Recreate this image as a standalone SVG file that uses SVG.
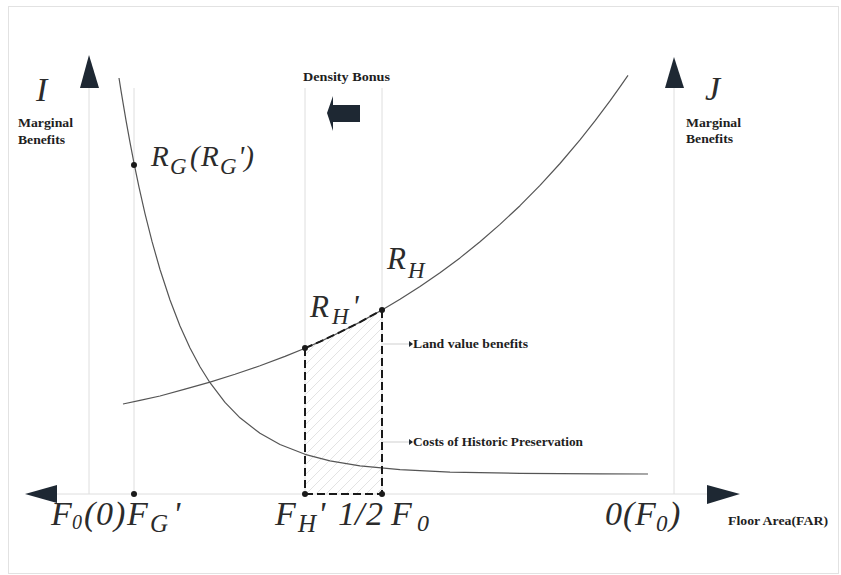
<svg xmlns="http://www.w3.org/2000/svg" width="841" height="575" viewBox="0 0 841 575">
<style>
.grid{stroke:#dedede;stroke-width:1;fill:none}
.curve{stroke:#555;stroke-width:1.2;fill:none;stroke-linejoin:round}
.dash{stroke:#1a1a1a;stroke-width:2;stroke-dasharray:8 4;fill:none}
.head{fill:#1e2833}
.dot{fill:#1a1a1a}
.math{font-family:"Liberation Serif","Times New Roman",serif;font-style:italic;fill:#2b2b2b}
.lbl{font-family:"Liberation Serif","Times New Roman",serif;font-weight:bold;font-size:13px;fill:#1e1e1e}
.lead{stroke:#cfcfcf;stroke-width:1}
</style>
<defs>
<pattern id="hatch" patternUnits="userSpaceOnUse" width="10" height="10">
<path d="M-2,2 L2,-2 M0,10 L10,0 M8,12 L12,8" stroke="#e3e3e3" stroke-width="1"/>
</pattern>
</defs>
<rect x="8.5" y="6.5" width="830" height="567" fill="#fff" stroke="#e2e2e2"/>
<g id="axes">
<line class="grid" x1="57" y1="494" x2="707" y2="494"/>
<line class="grid" x1="89" y1="88" x2="89" y2="494"/>
<line class="grid" x1="674" y1="88" x2="674" y2="494"/>
<line class="grid" x1="134" y1="88" x2="134" y2="494"/>
<line class="grid" x1="305" y1="88" x2="305" y2="494"/>
<line class="grid" x1="382" y1="88" x2="382" y2="494"/>
<polygon class="head" points="25,494 57,485 57,503"/>
<polygon class="head" points="740,494 707,485 707,504"/>
<polygon class="head" points="89,55 80,88 99,88"/>
<polygon class="head" points="674,57 665,88 684,88"/>
<polygon class="head" points="327,113 333,96 333,105 360,105 360,122 333,122 333,131"/>
</g>
<g id="area">
<path d="M305,348.2 L320,341.6 L340,332.2 L360,322.1 L382,310 L382,494 L305,494 Z" fill="url(#hatch)"/>
</g>
<g id="curves">
<polyline id="cost-curve" class="curve" points="119,78 121,90.6 123,102.7 126,120.3 130,142.4 134,163.1 139,187.2 145,213.6 152,241.4 160,269.5 170,300 180,326 190,348 200,366.8 210,382.7 225,402.4 240,417.8 260,433.3 280,444.5 305,454.3 330,460.8 360,465.9 400,469.7 450,472.1 520,473.4 600,473.9 648,474"/>
<polyline id="value-curve" class="curve" points="123,404 140,400.3 160,396 185,389.2 210,382.1 235,374.3 260,365.8 285,356.4 305,348.2 320,341.6 340,332.2 360,322.1 382,310 400,299.3 420,286.6 440,272.8 460,257.9 480,241.8 500,224.4 520,205.7 540,185.4 560,163.5 580,139.9 595,120.9 610,100.9 620,86.8 628,75.3"/>
</g>
<g id="connectors">
<polyline class="dash" points="305,348.2 320,341.6 340,332.2 360,322.1 382,310"/>
<line class="dash" x1="305" y1="348" x2="305" y2="494"/>
<line class="dash" x1="382" y1="310" x2="382" y2="494"/>
<line class="dash" x1="305" y1="494" x2="382" y2="494"/>
<line class="lead" x1="383" y1="344" x2="410" y2="344"/>
<polygon class="head" points="409,341 413,344 409,347"/>
<line class="lead" x1="383" y1="442" x2="410" y2="442"/>
<polygon class="head" points="409,439 413,442 409,445"/>
</g>
<g id="points">
<circle class="dot" cx="134" cy="165" r="3"/>
<circle class="dot" cx="305" cy="348" r="3"/>
<circle class="dot" cx="382" cy="310" r="3"/>
<circle class="dot" cx="134" cy="494" r="3"/>
<circle class="dot" cx="305" cy="494" r="3"/>
<circle class="dot" cx="382" cy="494" r="3"/>
</g>
<g id="axis-I">
<text class="math" x="36" y="101" font-size="34">I</text>
<text class="lbl" x="18" y="127" textLength="55" lengthAdjust="spacingAndGlyphs">Marginal</text>
<text class="lbl" x="18" y="144" textLength="47" lengthAdjust="spacingAndGlyphs">Benefits</text>
</g>
<g id="axis-J">
<text class="math" x="705" y="100" font-size="34">J</text>
<text class="lbl" x="686" y="127" textLength="55" lengthAdjust="spacingAndGlyphs">Marginal</text>
<text class="lbl" x="686" y="143" textLength="47" lengthAdjust="spacingAndGlyphs">Benefits</text>
</g>
<g id="density-bonus">
<text class="lbl" x="303" y="81" textLength="87" lengthAdjust="spacingAndGlyphs">Density Bonus</text>
</g>
<g id="label-RG">
<text class="math" font-size="29"><tspan x="151" y="166">R</tspan><tspan x="170" y="174" font-size="23">G</tspan><tspan x="190" y="166">(</tspan><tspan x="201" y="166">R</tspan><tspan x="220" y="174" font-size="23">G</tspan><tspan x="238" y="166">')</tspan></text>
</g>
<g id="label-RH">
<text class="math" font-size="31"><tspan x="387" y="269">R</tspan><tspan x="408" y="278" font-size="23">H</tspan></text>
</g>
<g id="label-RH-prime">
<text class="math" font-size="31"><tspan x="310" y="317">R</tspan><tspan x="332" y="324" font-size="23">H</tspan><tspan x="352" y="317">'</tspan></text>
</g>
<g id="land-value">
<text class="lbl" x="413" y="348" textLength="115" lengthAdjust="spacingAndGlyphs">Land value benefits</text>
</g>
<g id="costs">
<text class="lbl" x="413" y="446" textLength="170" lengthAdjust="spacingAndGlyphs">Costs of Historic Preservation</text>
</g>
<g id="label-F0">
<text class="math" font-size="34"><tspan x="51" y="525">F</tspan><tspan x="72" y="529" font-size="20">0</tspan><tspan x="84" y="525">(</tspan><tspan x="96" y="525">0</tspan><tspan x="114" y="525">)</tspan><tspan x="127" y="525">F</tspan><tspan x="150" y="532" font-size="25">G</tspan><tspan x="173" y="525">'</tspan></text>
</g>
<g id="label-FH">
<text class="math" font-size="34"><tspan x="275" y="525">F</tspan><tspan x="298" y="532" font-size="25">H</tspan><tspan x="318" y="525">'</tspan><tspan x="338" y="525">1/</tspan><tspan x="366" y="525">2</tspan><tspan x="391" y="525">F</tspan><tspan x="417" y="531" font-size="24">0</tspan></text>
</g>
<g id="label-0F0">
<text class="math" font-size="34"><tspan x="605" y="525">0</tspan><tspan x="623" y="525">(</tspan><tspan x="635" y="525">F</tspan><tspan x="656" y="531" font-size="23">0</tspan><tspan x="669" y="525">)</tspan></text>
</g>
<g id="floor-area">
<text class="lbl" x="728" y="525" textLength="100" lengthAdjust="spacingAndGlyphs">Floor Area(FAR)</text>
</g>
</svg>
